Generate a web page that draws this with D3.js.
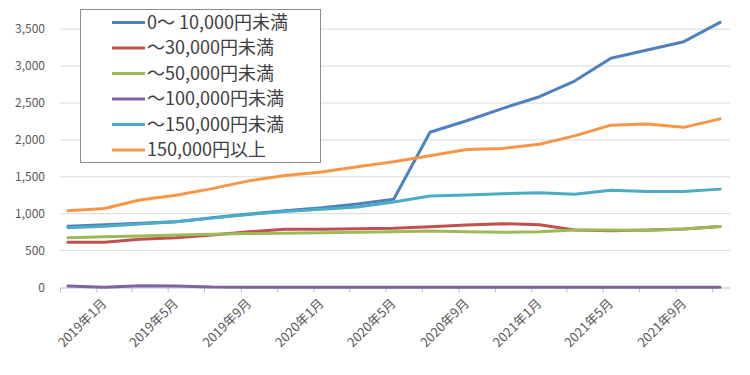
<!DOCTYPE html>
<html lang="ja">

<head>
  <meta charset="UTF-8">
  <title>価格帯別 推移</title>
  <script src="https://d3js.org/d3.v7.min.js"></script>
  <style>
    body {
      margin: 0;
      background-color: white;
    }

    text {
      font-family: "Noto Sans CJK JP", "Noto Sans", sans-serif;
    }
  </style>
</head>

<body>
  <div id="chart"></div>

  <script>
    // months (one point every 2 months)
    var months = ["2018-11", "2019-01", "2019-03", "2019-05", "2019-07", "2019-09", "2019-11",
      "2020-01", "2020-03", "2020-05", "2020-07", "2020-09", "2020-11",
      "2021-01", "2021-03", "2021-05", "2021-07", "2021-09", "2021-11"];

    var seriesNames = ["0～ 10,000円未満", "～30,000円未満", "～50,000円未満",
      "～100,000円未満", "～150,000円未満", "150,000円以上"];

    var band10k = [830, 850, 870, 890, 945, 995, 1040, 1080, 1130, 1195, 2103, 2260, 2428, 2585, 2798, 3106, 3218, 3331, 3593];
    var band30k = [612, 612, 655, 675, 710, 755, 788, 790, 795, 802, 824, 847, 865, 850, 780, 770, 778, 792, 828];
    var band50k = [675, 688, 698, 710, 720, 733, 735, 742, 748, 757, 765, 757, 748, 755, 778, 780, 772, 792, 825];
    var band100k = [22, 5, 25, 22, 6, 4, 3, 3, 3, 3, 3, 3, 3, 3, 3, 3, 3, 3, 3];
    var band150k = [810, 830, 860, 890, 940, 990, 1030, 1060, 1090, 1160, 1240, 1255, 1270, 1285, 1265, 1318, 1300, 1300, 1333];
    var bandOver = [1040, 1070, 1185, 1250, 1340, 1445, 1518, 1565, 1635, 1705, 1785, 1870, 1885, 1940, 2055, 2200, 2215, 2170, 2285];

    var yTicks = [0, 500, 1000, 1500, 2000, 2500, 3000, 3500];
    var tickMonths = months.concat([]);
    var labelMonths = ["2019-01", "2019-05", "2019-09", "2020-01", "2020-05", "2020-09", "2021-01", "2021-05", "2021-09"];

    var colors = ["#4f81bd", "#c0504d", "#9bbb59", "#8064a2", "#4bacc6", "#f79646"];
    var allSeries = [band10k, band30k, band50k, band100k, band150k, bandOver];

    var width = 750;
    var height = 375;
    var parseMonth = d3.timeParse("%Y-%m");
    var labelFormat = d3.timeFormat("%Y年%-m月");

    let svg = d3.select("#chart")
      .append("svg")
      .attr("width", width)
      .attr("height", height)
      .style("background-color", "white");

    const xScale = d3.scaleTime()
      .domain([parseMonth("2018-11"), parseMonth("2021-12")])
      .range([60, 730]);
    const yScale = d3.scaleLinear()
      .domain([0, 3500])
      .range([287.5, 29.2]);

    // points sit in the middle of their month
    function pointX(m) {
      let d = parseMonth(m);
      return (xScale(d) + xScale(d3.timeMonth.offset(d, 1))) / 2 - 1;
    }

    // gridlines
    svg.append("g")
      .selectAll("line")
      .data(yTicks.filter(d => d > 0))
      .enter()
      .append("line")
      .attr("x1", xScale.range()[0])
      .attr("x2", xScale.range()[1])
      .attr("y1", d => yScale(d))
      .attr("y2", d => yScale(d))
      .attr("stroke", "#d9d9d9")
      .attr("stroke-width", 1);

    // y labels
    svg.append("g")
      .selectAll("text")
      .data(yTicks)
      .enter()
      .append("text")
      .attr("x", 45)
      .attr("y", d => yScale(d))
      .attr("dy", "0.35em")
      .attr("text-anchor", "end")
      .attr("fill", "#595959")
      .style("font-size", "12px")
      .text(d3.format(","));

    // x axis: ticks every 2 months, labels every 4
    var xAxis = d3.axisBottom(xScale)
      .tickValues(tickMonths.map(parseMonth))
      .tickSize(5)
      .tickSizeOuter(0)
      .tickFormat("");
    let xAxisG = svg.append("g")
      .attr("transform", "translate(0," + yScale(0) + ")")
      .call(xAxis);
    xAxisG.select(".domain").attr("stroke", "#bfbfbf");
    xAxisG.selectAll(".tick line").attr("stroke", "#bfbfbf");

    svg.append("g")
      .selectAll("text")
      .data(labelMonths.map(parseMonth))
      .enter()
      .append("text")
      .attr("transform", d => "translate(" + (xScale(d) + 8) + "," + 301 + ") rotate(-45)")
      .attr("text-anchor", "end")
      .attr("dy", "0.35em")
      .attr("fill", "#595959")
      .style("font-size", "13px")
      .text(labelFormat);

    // lines
    var line = d3.line()
      .x((d, i) => pointX(months[i]))
      .y(d => yScale(d));

    allSeries.forEach(function (values, i) {
      svg.append("path")
        .datum(values)
        .attr("d", line)
        .attr("fill", "none")
        .attr("stroke", colors[i])
        .attr("stroke-width", 3)
        .attr("stroke-linejoin", "round")
        .attr("stroke-linecap", "round");
    });

    // legend
    let legend = svg.append("g");
    legend.append("rect")
      .attr("x", 80.5)
      .attr("y", 9.5)
      .attr("width", 240)
      .attr("height", 153)
      .attr("fill", "white")
      .attr("stroke", "#8c8c8c")
      .attr("stroke-width", 1);

    seriesNames.forEach(function (name, i) {
      let y = 22.5 + i * 25.5;
      legend.append("line")
        .attr("x1", 112)
        .attr("x2", 145)
        .attr("y1", y)
        .attr("y2", y)
        .attr("stroke", colors[i])
        .attr("stroke-width", 3);
      legend.append("text")
        .attr("x", 147)
        .attr("y", y)
        .attr("dy", "0.36em")
        .attr("fill", "#404040")
        .style("font-size", "18px")
        .text(name);
    });
  </script>
</body>

</html>
